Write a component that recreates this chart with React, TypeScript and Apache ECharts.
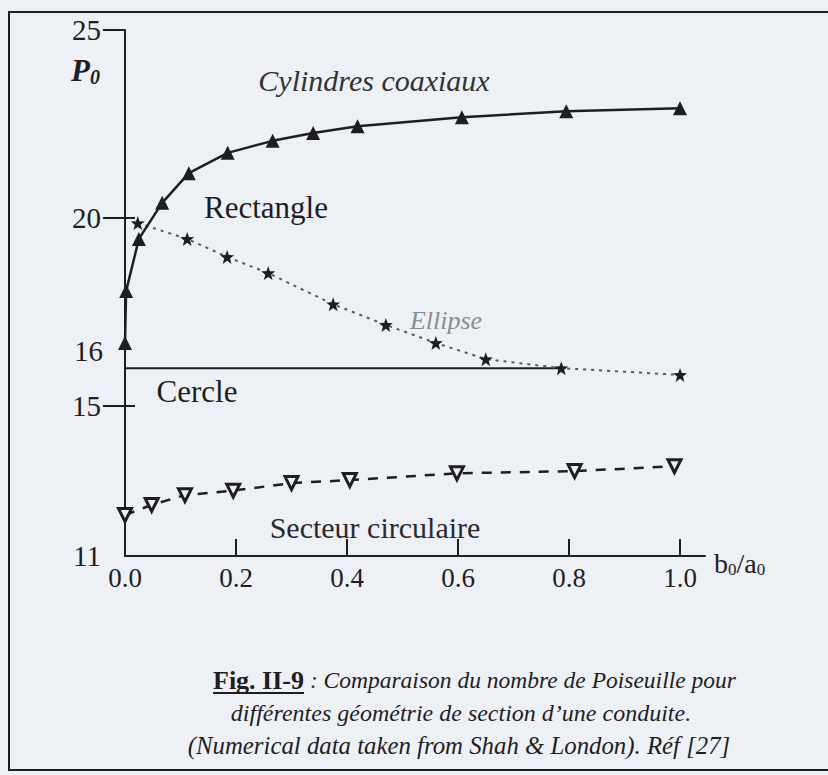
import React, { useEffect, useRef } from "react";
import * as echarts from "echarts";

// Cylindres coaxiaux (solid line, filled triangles)
const cylX = [0, 0.002, 0.025, 0.067, 0.115, 0.185, 0.266, 0.339, 0.419, 0.607, 0.795, 1.0];
const cylY = [16.67, 18.05, 19.44, 20.4, 21.19, 21.73, 22.05, 22.26, 22.44, 22.68, 22.84, 22.92];

// Rectangle / Ellipse (dotted line, stars)
const ellX = [0.023, 0.112, 0.184, 0.258, 0.375, 0.47, 0.56, 0.65, 0.786, 1.0];
const ellY = [19.86, 19.44, 18.96, 18.53, 17.7, 17.15, 16.67, 16.24, 16.0, 15.82];

// Cercle (horizontal line)
const cerX = [0, 0.79];
const cerY = [16, 16];

// Secteur circulaire (dashed line, open down-triangles)
const secX = [0, 0.048, 0.108, 0.195, 0.3, 0.405, 0.598, 0.81, 0.99];
const secY = [12.09, 12.36, 12.62, 12.74, 12.94, 13.02, 13.2, 13.26, 13.39];

const xTickLabels = [0, 0.2, 0.4, 0.6, 0.8, 1.0];
const xTicks = [0.2, 0.4, 0.6, 0.8, 1.0];
const yTickLabels = [11, 15, 20, 25];
const yTicksOut = [15, 20, 25];
const yTicksIn = [15, 20];

const pair = (xs: number[], ys: number[]) => xs.map((x, i) => [x, ys[i]]);

const SERIF = "'Liberation Serif', 'Times New Roman', serif";
const INK = "#1e1e22";
const BG = "#edf0f5";
const STAR = "path://M50,2 L62,36 L98,37 L70,59 L80,95 L50,74 L20,95 L30,59 L2,37 L38,36 Z";

function measure(text: string, font: string): number {
  const c = document.createElement("canvas").getContext("2d");
  if (!c) return 0;
  c.font = font;
  return c.measureText(text).width;
}

export default function App() {
  const ref = useRef<HTMLDivElement>(null);
  useEffect(() => {
    document.body.style.margin = "0";
    const chart = echarts.init(ref.current!, null, { renderer: "svg" });
    const figW = measure("Fig. II-9", "bold 26px 'Liberation Serif'");
    const capLeft = 213;
    const option: any = {
      animation: false,
      backgroundColor: BG,
      grid: { left: 125, top: 30, width: 580, height: 526 },
      xAxis: {
        type: "value",
        min: 0,
        max: 1.045,
        axisLine: { lineStyle: { color: INK, width: 2 } },
        axisTick: { show: true, customValues: xTicks, inside: true, length: 17, lineStyle: { color: INK, width: 2 } },
        axisLabel: {
          customValues: xTickLabels,
          formatter: (v: number) => v.toFixed(1),
          fontFamily: SERIF,
          fontSize: 27,
          color: INK,
          margin: 8,
        },
        splitLine: { show: false },
      },
      yAxis: [
        {
          type: "value",
          min: 11,
          max: 25,
          axisLine: { show: true, lineStyle: { color: INK, width: 2 } },
          axisTick: { show: true, customValues: yTicksOut, length: 22, lineStyle: { color: INK, width: 2 } },
          axisLabel: {
            customValues: yTickLabels,
            fontFamily: SERIF,
            fontSize: 29,
            color: INK,
            margin: 24,
          },
          splitLine: { show: false },
        },
        {
          type: "value",
          min: 11,
          max: 25,
          position: "left",
          axisLine: { show: false },
          axisTick: { show: true, customValues: yTicksIn, inside: true, length: 10, lineStyle: { color: INK, width: 2 } },
          axisLabel: { show: false },
          splitLine: { show: false },
        },
      ],
      series: [
        {
          type: "line",
          name: "Cercle",
          data: pair(cerX, cerY),
          showSymbol: false,
          symbol: "none",
          lineStyle: { color: INK, width: 2 },
        },
        {
          type: "line",
          name: "Ellipse",
          data: pair(ellX, ellY),
          symbol: STAR,
          symbolSize: 14,
          itemStyle: { color: INK },
          lineStyle: { color: "#55575e", width: 2, type: [3, 5] },
        },
        {
          type: "line",
          name: "Cylindres coaxiaux",
          data: pair(cylX, cylY),
          symbol: "triangle",
          symbolSize: 14,
          itemStyle: { color: INK },
          lineStyle: { color: INK, width: 2.5 },
          clip: false,
        },
        {
          type: "line",
          name: "Secteur circulaire",
          data: pair(secX, secY),
          symbol: "triangle",
          symbolRotate: 180,
          symbolSize: 13,
          itemStyle: { color: BG, borderColor: INK, borderWidth: 3 },
          lineStyle: { color: INK, width: 2.5, type: [10, 9] },
          clip: false,
        },
      ],
      graphic: [
        { type: "rect", shape: { x: 9, y: 12, width: 840, height: 758 }, style: { fill: "none", stroke: INK, lineWidth: 2 }, z: 10 },
        {
          type: "text",
          left: 71,
          top: 55,
          style: {
            text: "{p|P}{s|0}",
            rich: {
              p: { fontFamily: SERIF, fontSize: 31, fontWeight: "bold", fontStyle: "italic", fill: INK },
              s: { fontFamily: SERIF, fontSize: 20, fontWeight: "bold", fontStyle: "italic", fill: INK, padding: [12, 0, 0, 0] },
            },
          },
        },
        { type: "text", left: 74, top: 336, style: { text: "16", fontFamily: SERIF, fontSize: 29, fill: INK } },
        {
          type: "text",
          left: 714,
          top: 549,
          style: {
            text: "{b|b}{s|0}{b|/a}{s|0}",
            rich: {
              b: { fontFamily: SERIF, fontSize: 28, fill: INK },
              s: { fontFamily: SERIF, fontSize: 17, fill: INK, padding: [12, 0, 0, 0] },
            },
          },
        },
        { type: "text", x: 374, y: 80, style: { text: "Cylindres coaxiaux", fontFamily: SERIF, fontSize: 30, fontStyle: "italic", fill: "#333", align: "center", verticalAlign: "middle" } },
        { type: "text", x: 266, y: 207, style: { text: "Rectangle", fontFamily: SERIF, fontSize: 31, fill: INK, align: "center", verticalAlign: "middle" } },
        { type: "text", x: 446, y: 320, style: { text: "Ellipse", fontFamily: SERIF, fontSize: 26, fontStyle: "italic", fill: "#8a8c92", align: "center", verticalAlign: "middle" } },
        { type: "text", x: 197, y: 391, style: { text: "Cercle", fontFamily: SERIF, fontSize: 31, fill: INK, align: "center", verticalAlign: "middle" } },
        { type: "text", x: 375, y: 527, style: { text: "Secteur circulaire", fontFamily: SERIF, fontSize: 30, fill: "#2a2a2e", align: "center", verticalAlign: "middle" } },
        {
          type: "text",
          x: capLeft,
          y: 680,
          style: {
            text: "{f|Fig. II-9}{i| : Comparaison du nombre de Poiseuille pour}",
            align: "left",
            verticalAlign: "middle",
            rich: {
              f: { fontFamily: SERIF, fontSize: 26, fontWeight: "bold", fill: INK },
              i: { fontFamily: SERIF, fontSize: 23.5, fontStyle: "italic", fill: INK },
            },
          },
        },
        { type: "line", shape: { x1: capLeft, y1: 693, x2: capLeft + (figW || 91), y2: 693 }, style: { stroke: INK, lineWidth: 2 } },
        { type: "text", x: 461, y: 713, style: { text: "différentes géométrie de section d’une conduite.", fontFamily: SERIF, fontSize: 24, fontStyle: "italic", fill: INK, align: "center", verticalAlign: "middle" } },
        { type: "text", x: 459, y: 745, style: { text: "(Numerical data taken from Shah & London). Réf [27]", fontFamily: SERIF, fontSize: 24.8, fontStyle: "italic", fill: INK, align: "center", verticalAlign: "middle" } },
      ],
    };
    chart.setOption(option);
    return () => chart.dispose();
  }, []);
  return <div ref={ref} style={{ width: 828, height: 775 }} />;
}
